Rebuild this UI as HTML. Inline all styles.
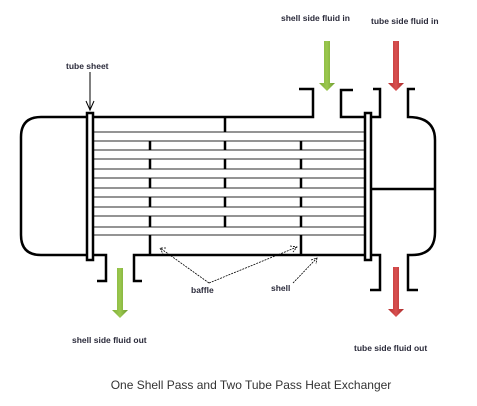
<!DOCTYPE html>
<html><head><style>
body{margin:0;background:#fff;}
svg{display:block;}
.l{font-family:"Liberation Sans",sans-serif;font-weight:bold;font-size:8.5px;fill:#2a2a3a;}
</style></head><body>
<svg width="477" height="406" viewBox="0 0 477 406" xmlns="http://www.w3.org/2000/svg">
<defs>
<linearGradient id="g" x1="0" x2="1"><stop offset="0" stop-color="#7fae3a"/><stop offset="0.5" stop-color="#9bc84e"/><stop offset="1" stop-color="#6d9a2e"/></linearGradient>
<linearGradient id="r" x1="0" x2="1"><stop offset="0" stop-color="#b83030"/><stop offset="0.5" stop-color="#d85050"/><stop offset="1" stop-color="#a82828"/></linearGradient>
<g id="b" stroke="#000" stroke-width="2.5"><line x1="0" y1="141" x2="0" y2="150"/><line x1="0" y1="159" x2="0" y2="169"/><line x1="0" y1="178" x2="0" y2="188"/><line x1="0" y1="197" x2="0" y2="207"/><line x1="0" y1="216" x2="0" y2="227"/></g>
</defs>
<g stroke="#555" stroke-width="1.3">
<line x1="93" y1="132" x2="365" y2="132"/><line x1="93" y1="141" x2="365" y2="141"/>
<line x1="93" y1="150" x2="365" y2="150"/><line x1="93" y1="159" x2="365" y2="159"/>
<line x1="93" y1="169" x2="365" y2="169"/><line x1="93" y1="178" x2="365" y2="178"/>
<line x1="93" y1="188" x2="365" y2="188"/><line x1="93" y1="197" x2="365" y2="197"/>
<line x1="93" y1="207" x2="365" y2="207"/><line x1="93" y1="216" x2="365" y2="216"/>
<line x1="93" y1="227" x2="365" y2="227"/><line x1="93" y1="235" x2="365" y2="235"/>
</g>
<g stroke="#000" stroke-width="2.5">
<line x1="225" y1="117" x2="225" y2="132"/>
<line x1="150" y1="235" x2="150" y2="255"/><line x1="301" y1="235" x2="301" y2="255"/>
</g>
<use href="#b" x="150"/><use href="#b" x="225"/><use href="#b" x="301"/>
<g fill="none" stroke="#000" stroke-width="2.5">
<polyline points="93,117 313,117 313,89 299,89"/>
<polyline points="353,90 341,90 341,117 365,117"/>
<polyline points="93,255 106,255 106,281 97,281"/>
<polyline points="142,281 134,281 134,255 365,255"/>
<path d="M86,117 H41 Q21,117 21,137 V235 Q21,255 41,255 H86"/>
<polyline points="373,89 380,89 380,117 371,117"/>
<path d="M415,89 H408 V117 Q435,117 435,140 V232 Q435,255 412,255 H408 V290 H418"/>
<polyline points="371,255 380,255 380,290 370,290"/>
<line x1="371" y1="189" x2="435" y2="189"/>
<rect x="87" y="113" width="6" height="147"/>
<rect x="365" y="113" width="6" height="147"/>
</g>
<path d="M324,41 h6 v42 h5 l-8,8 l-8,-8 h5z" fill="url(#g)"/>
<path d="M393,41 h6 v42 h5 l-8,8 l-8,-8 h5z" fill="url(#r)"/>
<path d="M117,268 h6 v42 h5 l-8,8 l-8,-8 h5z" fill="url(#g)"/>
<path d="M393,267 h6 v42 h5 l-8,8 l-8,-8 h5z" fill="url(#r)"/>
<g stroke="#000" fill="none" stroke-width="1">
<line x1="90" y1="72" x2="90" y2="110"/><polyline points="86,101 90,110 94,101"/>
</g>
<g stroke="#000" fill="none" stroke-width="0.8" stroke-dasharray="2,1">
<line x1="209" y1="283" x2="160" y2="248"/><polyline points="166,248 160,248 163,254"/>
<line x1="209" y1="283" x2="297" y2="247"/><polyline points="290,246 297,247 293,252"/>
<line x1="293" y1="283" x2="317" y2="258"/><polyline points="311,260 317,258 316,264"/>
</g>
<text class="l" x="66" y="69">tube sheet</text>
<text class="l" x="281" y="21">shell side fluid in</text>
<text class="l" x="371" y="24">tube side fluid in</text>
<text class="l" x="191" y="293">baffle</text>
<text class="l" x="271" y="291">shell</text>
<text class="l" x="72" y="343">shell side fluid out</text>
<text class="l" x="354" y="351">tube side fluid out</text>
<text x="251" y="389" text-anchor="middle" style="font-family:'Liberation Sans',sans-serif;font-size:12px;fill:#333;">One Shell Pass and Two Tube Pass Heat Exchanger</text>
</svg>
</body></html>
